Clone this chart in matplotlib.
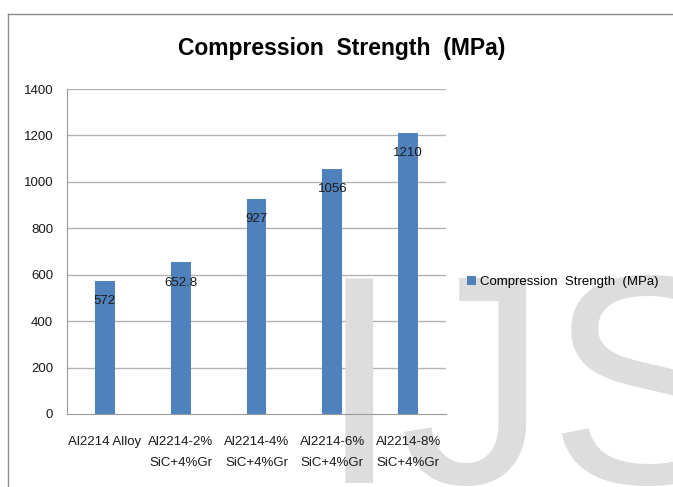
# Compression strength bar chart (Excel style)

import matplotlib.pyplot as plt
from matplotlib.lines import Line2D

plt.rcParams['font.family'] = ['Liberation Sans', 'DejaVu Sans']

categories = ["Al2214 Alloy", "Al2214-2%\nSiC+4%Gr", "Al2214-4%\nSiC+4%Gr",
              "Al2214-6%\nSiC+4%Gr", "Al2214-8%\nSiC+4%Gr"]
strength = [572, 652.8, 927, 1056, 1210]
value_labels = ["572", "652.8", "927", "1056", "1210"]
yticks = [0, 200, 400, 600, 800, 1000, 1200, 1400]
series_name = "Compression  Strength  (MPa)"

W, H = 673, 487
fig = plt.figure(figsize=(W / 100, H / 100), dpi=100)

# outer frame (top and left edges)
fig.add_artist(Line2D([8 / W, 1], [1 - 14 / H, 1 - 14 / H], color='#8c8c8c', lw=1,
                      transform=fig.transFigure))
fig.add_artist(Line2D([8 / W, 8 / W], [0, 1 - 14 / H], color='#8c8c8c', lw=1,
                      transform=fig.transFigure))

ax = fig.add_axes([67 / W, 1 - 414 / H, (446 - 67) / W, (414 - 89) / H])
ax.patch.set_visible(False)

# gridlines first, then the watermark over them, then labels and bars
for t in yticks[1:]:
    ax.axhline(t, color='#b3b3b3', lw=1, zorder=0)

ax.text(318 / W, 4 / H, "IJS", fontsize=214, color='#dddddd', ha='left', va='baseline',
        transform=fig.transFigure, clip_on=False, zorder=1)

x = range(len(categories))
ax.bar(x, strength, width=0.26, color='#4F81BD', label=series_name, zorder=3)

for i, v in enumerate(strength):
    ax.annotate(value_labels[i], (i, v), xytext=(0, -14.5), textcoords='offset points',
                ha='center', va='center', fontsize=9.5, color='#1a1a1a', zorder=4)

ax.set_xlim(-0.5, len(categories) - 0.5)
ax.set_ylim(0, 1400)
ax.set_yticks(yticks)
ax.set_xticks(list(x))
ax.set_xticklabels(categories, linespacing=1.95)
ax.tick_params(axis='both', length=0, labelsize=9.5, colors='#1a1a1a')
ax.tick_params(axis='y', pad=10)
ax.tick_params(axis='x', pad=16)
for s in ['top', 'right']:
    ax.spines[s].set_visible(False)
for s in ['left', 'bottom']:
    ax.spines[s].set_color('#9a9a9a')

fig.text(342 / W, 1 - 48 / H, "Compression  Strength  (MPa)", fontsize=16.5, fontweight='bold',
         ha='center', va='center')

ax.legend(loc='center left', bbox_to_anchor=(467 / W, 1 - 282 / H), bbox_transform=fig.transFigure,
          frameon=False, fontsize=9.5, handlelength=0.7, handleheight=0.7,
          handletextpad=0.3, borderpad=0, borderaxespad=0)

plt.savefig("out.png", dpi=100)
